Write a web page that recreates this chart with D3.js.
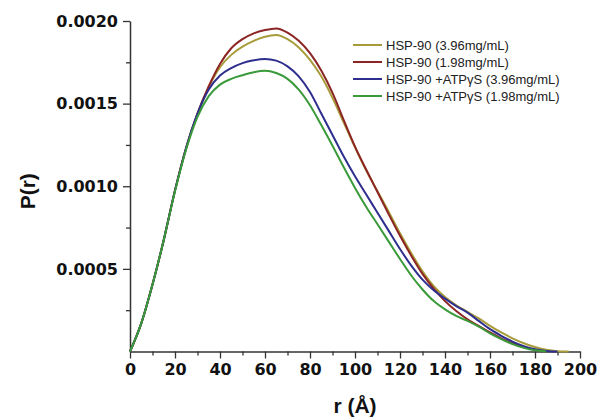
<!DOCTYPE html>
<html>
<head>
<meta charset="utf-8">
<script src="https://cdn.jsdelivr.net/npm/d3@7"></script>
<style>
  html, body { margin: 0; padding: 0; background: #fff; }
  svg { display: block; }
</style>
</head>
<body>
<div class="svg-container"></div>
<script>
// r grid in Å, P(r) values in units of 1e-4
const rGrid = [0, 5, 10, 15, 20, 25, 30, 35, 40, 45, 50, 55, 60, 65, 70, 75, 80, 85, 90, 95,
  100, 105, 110, 115, 120, 125, 130, 135, 140, 145, 150, 155, 160, 165, 170, 175, 180, 185, 190, 195];

const hsp396 = [0, 1.7, 4.05, 6.75, 9.75, 12.35, 14.4, 16.0, 17.2, 17.95, 18.45, 18.8, 19.05, 19.15, 18.9, 18.4,
  17.65, 16.65, 15.35, 13.85, 12.35, 10.95, 9.7, 8.45, 7.15, 5.95, 4.85, 3.95, 3.3, 2.8, 2.4, 2.0, 1.55, 1.15, 0.8, 0.5,
  0.27, 0.1, 0.02, 0];
const hsp198 = [0, 1.7, 4.05, 6.75, 9.75, 12.35, 14.4, 16.05, 17.4, 18.35, 18.9, 19.25, 19.45, 19.55, 19.3, 18.8,
  18.05, 17.0, 15.65, 14.0, 12.4, 11.0, 9.65, 8.3, 7.0, 5.8, 4.7, 3.8, 3.05, 2.45, 1.95, 1.55, 1.15, 0.8, 0.5, 0.28,
  0.1, 0, null, null];
const atp396 = [0, 1.7, 4.05, 6.75, 9.75, 12.35, 14.4, 15.85, 16.7, 17.15, 17.45, 17.62, 17.7, 17.6, 17.25, 16.65,
  15.7, 14.4, 13.1, 11.8, 10.6, 9.5, 8.4, 7.3, 6.2, 5.2, 4.35, 3.7, 3.2, 2.75, 2.35, 1.85, 1.35, 0.95, 0.6, 0.32,
  0.13, 0.03, 0, null];
const atp198 = [0, 1.7, 4.05, 6.75, 9.7, 12.25, 14.2, 15.45, 16.15, 16.5, 16.72, 16.9, 16.99, 16.85, 16.5, 15.85,
  14.9, 13.7, 12.45, 11.15, 9.9, 8.75, 7.7, 6.65, 5.6, 4.6, 3.75, 3.05, 2.55, 2.15, 1.85, 1.5, 1.1, 0.75, 0.45, 0.22,
  0.07, 0, null, null];

const seriesNames = ["HSP-90 (3.96mg/mL)", "HSP-90 (1.98mg/mL)", "HSP-90 +ATPγS (3.96mg/mL)", "HSP-90 +ATPγS (1.98mg/mL)"];
const seriesColors = ["#a89c3a", "#8c2424", "#2e2e8e", "#3a9a3a"];
const seriesValues = [hsp396, hsp198, atp396, atp198];

const xTicks = [0, 20, 40, 60, 80, 100, 120, 140, 160, 180, 200];
const yTicks = [0.0005, 0.0010, 0.0015, 0.0020];

const width = 597, height = 419;
const margin = { top: 21, left: 130, right: 17, bottom: 67.5 };

const svg = d3.select("div.svg-container")
  .append("svg")
  .attr("width", width)
  .attr("height", height)
  .style("background-color", "#fff");

const x = d3.scaleLinear().domain([0, 200]).range([margin.left, width - margin.right]);
const y = d3.scaleLinear().domain([0, 0.0020]).range([height - margin.bottom, margin.top]);

const axisColor = "#333";

// minor ticks
svg.append("g")
  .attr("transform", `translate(0,${y(0)})`)
  .call(d3.axisBottom(x).tickValues(d3.range(10, 200, 20)).tickSize(4).tickFormat(""))
  .call(g => g.select(".domain").remove())
  .call(g => g.selectAll("line").attr("stroke", axisColor).attr("stroke-width", 1.3));

svg.append("g")
  .attr("transform", `translate(${x(0)},0)`)
  .call(d3.axisLeft(y).tickValues([0.00025, 0.00075, 0.00125, 0.00175]).tickSize(4).tickFormat(""))
  .call(g => g.select(".domain").remove())
  .call(g => g.selectAll("line").attr("stroke", axisColor).attr("stroke-width", 1.3));

// major axes
svg.append("g")
  .attr("transform", `translate(0,${y(0)})`)
  .call(d3.axisBottom(x).tickValues(xTicks).tickSize(7).tickSizeOuter(0).tickPadding(5).tickFormat(d3.format("d")))
  .call(g => g.select(".domain").attr("stroke", axisColor).attr("stroke-width", 1.5))
  .call(g => g.selectAll("line").attr("stroke", axisColor).attr("stroke-width", 1.3))
  .call(g => g.selectAll("text")
    .attr("fill", "#111")
    .attr("font-family", "DejaVu Sans")
    .attr("font-weight", "bold")
    .attr("font-size", 16));

svg.append("g")
  .attr("transform", `translate(${x(0)},0)`)
  .call(d3.axisLeft(y).tickValues(yTicks).tickSize(7).tickSizeOuter(0).tickPadding(5).tickFormat(d3.format(".4f")))
  .call(g => g.select(".domain").attr("stroke", axisColor).attr("stroke-width", 1.5))
  .call(g => g.selectAll("line").attr("stroke", axisColor).attr("stroke-width", 1.3))
  .call(g => g.selectAll("text")
    .attr("fill", "#111")
    .attr("font-family", "DejaVu Sans")
    .attr("font-weight", "bold")
    .attr("font-size", 16));

// axis titles
svg.append("text")
  .attr("x", x(100))
  .attr("y", 413)
  .attr("text-anchor", "middle")
  .attr("font-family", "Liberation Sans, Arial, sans-serif")
  .attr("font-weight", "bold")
  .attr("font-size", 21)
  .attr("fill", "#111")
  .text("r (Å)");

svg.append("text")
  .attr("transform", `translate(35,${y(0.001) + 5}) rotate(-90)`)
  .attr("text-anchor", "middle")
  .attr("font-family", "Liberation Sans, Arial, sans-serif")
  .attr("font-weight", "bold")
  .attr("font-size", 21)
  .attr("fill", "#111")
  .text("P(r)");

// curves
const line = d3.line()
  .defined(d => d[1] != null)
  .x(d => x(d[0]))
  .y(d => y(d[1] * 1e-4))
  .curve(d3.curveMonotoneX);

svg.append("g")
  .attr("fill", "none")
  .attr("stroke-width", 2)
  .selectAll("path")
  .data(seriesValues)
  .join("path")
  .attr("stroke", (d, i) => seriesColors[i])
  .attr("d", vals => line(rGrid.map((r, i) => [r, vals[i]])));

// legend
const legend = svg.append("g")
  .attr("font-family", "Liberation Sans, Arial, sans-serif")
  .attr("font-size", 13)
  .selectAll("g")
  .data(seriesNames)
  .join("g")
  .attr("transform", (d, i) => `translate(353,${45 + i * 17})`);

legend.append("line")
  .attr("x1", 0)
  .attr("x2", 29)
  .attr("stroke-width", 2)
  .attr("stroke", (d, i) => seriesColors[i]);

legend.append("text")
  .attr("x", 33)
  .attr("dy", "0.35em")
  .attr("fill", "#222")
  .text(d => d);
</script>
</body>
</html>
